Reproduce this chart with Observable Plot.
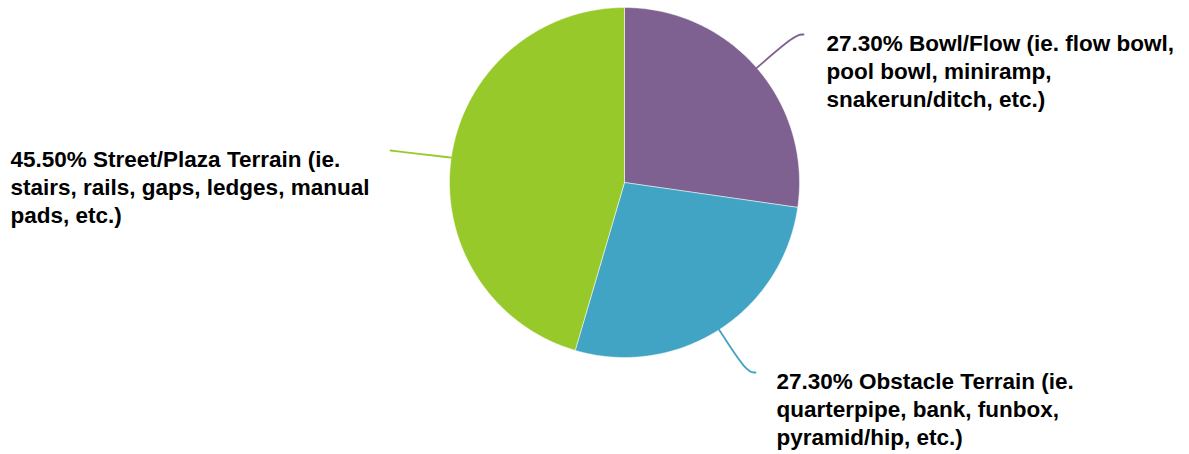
<!DOCTYPE html>
<html>
<head>
<meta charset="utf-8">
<script src="https://cdn.jsdelivr.net/npm/d3@7"></script>
<script src="https://cdn.jsdelivr.net/npm/@observablehq/plot@0.6"></script>
<style>
  html, body { margin: 0; padding: 0; background: #ffffff; }
  #chart { width: 1189px; height: 454px; }
  #chart svg text { font-family: "Liberation Sans", Arial, Helvetica, sans-serif; }
</style>
</head>
<body>
<div id="chart"></div>
<script>
// ---- data ----
const categories = ["Bowl/Flow", "Obstacle Terrain", "Street/Plaza Terrain"];
const values = [27.3, 27.3, 45.5];
const percentLabels = ["27.30%", "27.30%", "45.50%"];
const labelLines = [
  ["27.30% Bowl/Flow (ie. flow bowl,", "pool bowl, miniramp,", "snakerun/ditch, etc.)"],
  ["27.30% Obstacle Terrain (ie.", "quarterpipe, bank, funbox,", "pyramid/hip, etc.)"],
  ["45.50% Street/Plaza Terrain (ie.", "stairs, rails, gaps, ledges, manual", "pads, etc.)"]
];
const sliceColors = ["#7e6191", "#41a4c4", "#98c92a"];

// ---- layout ----
const W = 1189, H = 454;
const cx = 624, cy = 182, R = 175;
const labelAnchor = [ // where the leader line ends and label starts
  {lx: 803, ly: 34, tx: 826, ty: 31},
  {lx: 755, ly: 372, tx: 776, ty: 369},
  {lx: 390, ly: 150, tx: 10, ty: 147}
];

const arcs = d3.pie().sort(null).value(d => d)(values);
const pt = (a, r) => [cx + r * Math.sin(a), cy - r * Math.cos(a)];

const slicePts = [];
arcs.forEach((a, i) => {
  const cat = categories[i];
  slicePts.push({x: cx, y: cy, cat});
  const n = Math.max(2, Math.ceil((a.endAngle - a.startAngle) / (Math.PI / 360)));
  for (let k = 0; k <= n; k++) {
    const ang = a.startAngle + (a.endAngle - a.startAngle) * k / n;
    const [x, y] = pt(ang, R);
    slicePts.push({x, y, cat});
  }
  slicePts.push({x: cx, y: cy, cat});
});

const leaderPts = [];
arcs.forEach((a, i) => {
  const cat = categories[i];
  const mid = (a.startAngle + a.endAngle) / 2;
  const [sx, sy] = pt(mid, R);
  const {lx, ly} = labelAnchor[i];
  const dx = Math.sin(mid), dy = -Math.cos(mid);
  let ex, ey;
  if (Math.abs(dy) > 0.3) {
    const t = (ly - sy) / dy;
    ex = sx + dx * t; ey = ly;
  } else {
    ex = (sx + lx) / 2; ey = (sy + ly) / 2;
  }
  leaderPts.push({x: sx, y: sy, cat});
  leaderPts.push({x: ex, y: ey, cat});
  leaderPts.push({x: lx, y: ly, cat});
});

const textData = categories.map((c, i) => ({
  cat: c,
  x: labelAnchor[i].tx,
  y: labelAnchor[i].ty,
  text: labelLines[i].join("\n")
}));

const chart = Plot.plot({
  width: W,
  height: H,
  margin: 0,
  x: {domain: [0, W], range: [0, W], axis: null},
  y: {domain: [0, H], range: [0, H], axis: null},
  color: {domain: categories, range: sliceColors},
  style: {background: "#ffffff", overflow: "visible"},
  marks: [
    Plot.line(slicePts, {x: "x", y: "y", z: "cat", fill: "cat", stroke: "#ffffff", strokeWidth: 0.5, curve: "linear"}),
    Plot.line(leaderPts, {x: "x", y: "y", z: "cat", stroke: "cat", strokeWidth: 1.8, curve: "basis"}),
    Plot.text(textData, {
      x: "x", y: "y", text: "text",
      textAnchor: "start", lineAnchor: "top", lineHeight: 1.24,
      fontSize: 22.5, fontWeight: "bold", fill: "#000000",
      fontFamily: "Liberation Sans"
    })
  ]
});
document.getElementById("chart").appendChild(chart);
</script>
</body>
</html>
